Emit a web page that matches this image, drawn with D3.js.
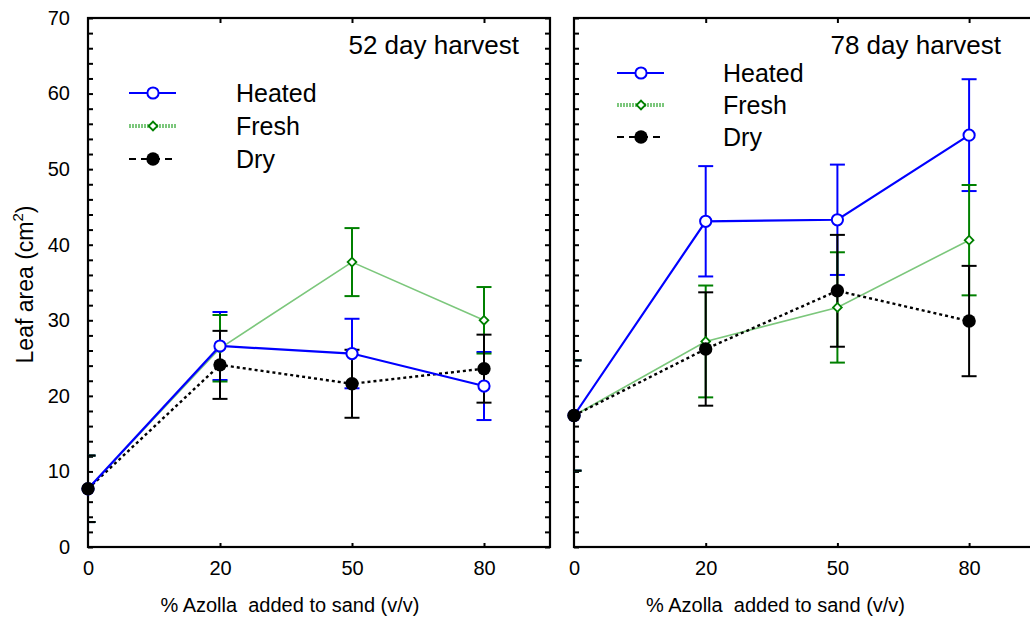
<!DOCTYPE html>
<html>
<head>
<meta charset="utf-8">
<script src="https://cdn.jsdelivr.net/npm/d3@7"></script>
<style>
  html, body { margin: 0; padding: 0; background: #fff; }
  text { font-family: "Liberation Sans", Arial, sans-serif; fill: #000; }
</style>
</head>
<body>
<div class="main"></div>
<script>
// x categories (% Azolla), equally spaced on the axis
const doses = ["0", "20", "50", "80"];
const yTickLabels = [0, 10, 20, 30, 40, 50, 60, 70];
const seriesNames = ["Heated", "Fresh", "Dry"];
const panelTitles = ["52 day harvest", "78 day harvest"];

// 52 day harvest, means and error (+/-)
const heated52 = [7.7, 26.6, 25.6, 21.3];
const heated52Err = [4.4, 4.5, 4.6, 4.5];
const fresh52 = [7.7, 26.3, 37.7, 30.0];
const fresh52Err = [4.4, 4.4, 4.5, 4.4];
const dry52 = [7.7, 24.1, 21.6, 23.6];
const dry52Err = [4.4, 4.5, 4.5, 4.5];

// 78 day harvest
const heated78 = [17.4, 43.1, 43.3, 54.5];
const heated78Err = [7.3, 7.3, 7.3, 7.4];
const fresh78 = [17.4, 27.2, 31.7, 40.6];
const fresh78Err = [7.3, 7.4, 7.3, 7.3];
const dry78 = [17.4, 26.2, 33.9, 29.9];
const dry78Err = [7.3, 7.5, 7.4, 7.3];

const W = 1030, H = 621;
const plotTop = 18, plotBottom = 547;

const styles = {
    Heated: { line: "#0000ff", mark: "#0000ff", width: 2.2, dash: null, legendDash: null, legendWidth: 2.2 },
    Fresh: { line: "#7cc77c", mark: "#008000", width: 1.6, dash: null, legendDash: "2,1", legendWidth: 4 },
    Dry: { line: "#000", mark: "#000", width: 2.4, dash: "3,3", legendDash: "7,5", legendWidth: 2.2 }
};

const panels = [
    { title: panelTitles[0], x0: 88, step: 132, titleRight: 519, legend: { x: 129, tx: 236, y: 93, dy: 33 },
      series: { Heated: [heated52, heated52Err], Fresh: [fresh52, fresh52Err], Dry: [dry52, dry52Err] }, labels: true },
    { title: panelTitles[1], x0: 574, step: 131.7, titleRight: 1001, legend: { x: 617, tx: 723, y: 73, dy: 32 },
      series: { Heated: [heated78, heated78Err], Fresh: [fresh78, fresh78Err], Dry: [dry78, dry78Err] }, labels: false }
];

const svg = d3.select(".main").append("svg")
    .attr("width", W)
    .attr("height", H);

const y = d3.scaleLinear().domain([0, 70]).range([plotBottom, plotTop]);

const drawMarker = (g, name, cx, cy) => {
    const st = styles[name];
    if (name === "Heated") {
        g.append("circle").attr("cx", cx).attr("cy", cy).attr("r", 5.6)
            .attr("fill", "#fff").attr("stroke", st.mark).attr("stroke-width", 2);
    } else if (name === "Fresh") {
        g.append("path").attr("d", d3.symbol(d3.symbolSquare).size(38)())
            .attr("transform", `translate(${cx},${cy}) rotate(45)`)
            .attr("fill", "#fff").attr("stroke", st.mark).attr("stroke-width", 1.8);
    } else {
        g.append("circle").attr("cx", cx).attr("cy", cy).attr("r", 6.7).attr("fill", "#000");
    }
};

panels.forEach((p, pi) => {
    const x1 = p.x0 + p.step * 3.5;
    const x = d3.scalePoint().domain(doses).range([p.x0, p.x0 + p.step * 3]);
    const g = svg.append("g");

    const clipId = "clip" + pi;
    svg.append("clipPath").attr("id", clipId)
        .append("rect").attr("x", p.x0).attr("y", plotTop).attr("width", x1 - p.x0).attr("height", plotBottom - plotTop);

    // ticks, all inside the frame
    const minor = d3.range(0, 71, 2);
    g.append("g").attr("transform", `translate(${p.x0},0)`)
        .call(d3.axisLeft(y).tickValues(minor).tickSize(-5).tickFormat(""));
    if (x1 < W) {
        g.append("g").attr("transform", `translate(${x1},0)`)
            .call(d3.axisLeft(y).tickValues(minor).tickSize(5).tickFormat(""));
    }
    g.append("g").attr("transform", `translate(0,${plotTop})`)
        .call(d3.axisTop(x).tickValues(doses.slice(1)).tickSize(-5).tickFormat(""));
    g.append("g").attr("transform", `translate(0,${plotBottom})`)
        .call(d3.axisBottom(x).tickValues(doses.slice(1)).tickSize(-4).tickFormat(""));
    g.selectAll(".domain").remove();
    g.selectAll(".tick line").attr("stroke", "#000").attr("stroke-width", 2);

    // frame
    g.append("rect").attr("x", p.x0).attr("y", plotTop).attr("width", x1 - p.x0).attr("height", plotBottom - plotTop)
        .attr("fill", "none").attr("stroke", "#000").attr("stroke-width", 2.2);

    // tick labels
    const xl = g.append("g").attr("transform", `translate(0,${plotBottom})`)
        .call(d3.axisBottom(x).tickSize(0).tickPadding(14));
    xl.select(".domain").remove();
    xl.selectAll("text").attr("font-size", 20).attr("font-family", null);

    if (p.labels) {
        const yl = g.append("g").attr("transform", `translate(${p.x0},0)`)
            .call(d3.axisLeft(y).tickValues(yTickLabels).tickSize(0).tickPadding(18));
        yl.select(".domain").remove();
        yl.selectAll("text").attr("font-size", 20).attr("font-family", null);

        const yt = g.append("text")
            .attr("transform", `translate(33,${(plotTop + plotBottom) / 2 + 2}) rotate(-90)`)
            .attr("text-anchor", "middle").attr("font-size", 23);
        yt.append("tspan").text("Leaf area (cm");
        yt.append("tspan").text("2").attr("font-size", 15).attr("dy", -10);
        yt.append("tspan").text(")").attr("dy", 10);
    }

    g.append("text")
        .attr("x", p.x0 + p.step * 1.53).attr("y", 612)
        .attr("text-anchor", "middle").attr("font-size", 20)
        .attr("xml:space", "preserve")
        .text("% Azolla  added to sand (v/v)");

    g.append("text").attr("x", p.titleRight).attr("y", 54)
        .attr("text-anchor", "end").attr("font-size", 26)
        .text(p.title);

    // error bars (clipped to plot area)
    const eb = g.append("g").attr("clip-path", `url(#${clipId})`);
    ["Heated", "Fresh", "Dry"].forEach(name => {
        const [vals, errs] = p.series[name];
        const col = styles[name].mark;
        vals.forEach((v, i) => {
            const cx = x(doses[i]);
            const lo = y(v - errs[i]), hi = y(v + errs[i]);
            eb.append("line").attr("x1", cx).attr("x2", cx).attr("y1", lo).attr("y2", hi)
                .attr("stroke", col).attr("stroke-width", 2);
            [lo, hi].forEach(cy => {
                eb.append("line").attr("x1", cx - 7.5).attr("x2", cx + 7.5).attr("y1", cy).attr("y2", cy)
                    .attr("stroke", col).attr("stroke-width", 2);
            });
        });
    });

    // lines
    const line = d3.line().x((d, i) => x(doses[i])).y(d => y(d));
    ["Fresh", "Dry", "Heated"].forEach(name => {
        const st = styles[name];
        g.append("path").datum(p.series[name][0])
            .attr("d", line).attr("fill", "none")
            .attr("stroke", st.line).attr("stroke-width", st.width)
            .attr("stroke-dasharray", st.dash);
    });

    // markers (dry on top, as at the 0 dose)
    ["Fresh", "Heated", "Dry"].forEach(name => {
        p.series[name][0].forEach((v, i) => drawMarker(g, name, x(doses[i]), y(v)));
    });

    // legend
    const lg = g.append("g");
    seriesNames.forEach((name, i) => {
        const st = styles[name];
        const ly = p.legend.y + i * p.legend.dy;
        lg.append("line").attr("x1", p.legend.x).attr("x2", p.legend.x + 47).attr("y1", ly).attr("y2", ly)
            .attr("stroke", st.line).attr("stroke-width", st.legendWidth)
            .attr("stroke-dasharray", st.legendDash);
        drawMarker(lg, name, p.legend.x + 24, ly);
        lg.append("text").attr("x", p.legend.tx).attr("y", ly + 8.5)
            .attr("font-size", 25).text(name);
    });
});
</script>
</body>
</html>
